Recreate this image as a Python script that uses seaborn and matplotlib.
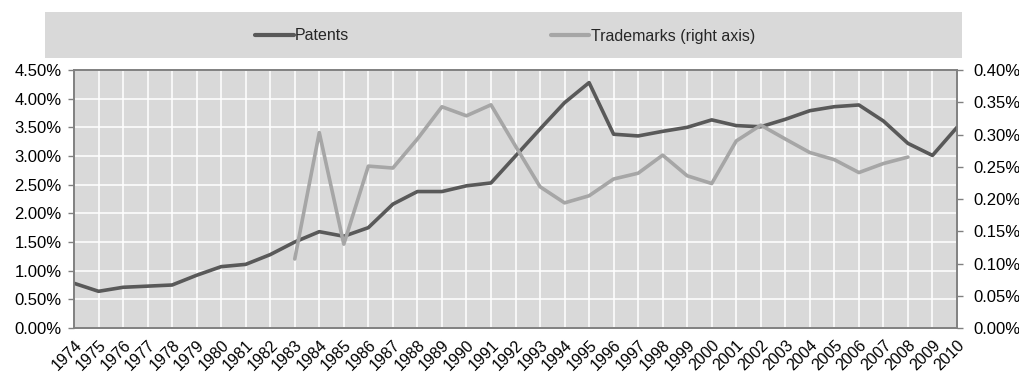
import numpy as np
import pandas as pd
import matplotlib
matplotlib.use("Agg")
import matplotlib.pyplot as plt
from matplotlib.patches import Rectangle
from matplotlib.ticker import PercentFormatter, MultipleLocator
import seaborn as sns

years = list(range(1974, 2011))

patents = [0.78, 0.64, 0.71, 0.73, 0.75, 0.92, 1.07, 1.11, 1.28, 1.50,
           1.68, 1.60, 1.75, 2.16, 2.38, 2.38, 2.48, 2.53, 3.00, 3.47,
           3.93, 4.28, 3.38, 3.35, 3.43, 3.50, 3.63, 3.53, 3.51, 3.64,
           3.79, 3.86, 3.89, 3.61, 3.22, 3.01, 3.50]

trademark_years = list(range(1983, 2009))
trademarks = [0.107, 0.303, 0.130, 0.251, 0.248, 0.293, 0.343, 0.329, 0.346, 0.282,
              0.219, 0.194, 0.205, 0.231, 0.240, 0.268, 0.236, 0.224, 0.290, 0.3145,
              0.293, 0.272, 0.261, 0.241, 0.255, 0.265]

pat_df = pd.DataFrame({"year": years, "value": patents})
tm_df = pd.DataFrame({"year": trademark_years, "value": trademarks})

sns.set_style("white")
plt.rcParams["font.family"] = ["Liberation Sans", "DejaVu Sans"]

DARK = "#595959"
LIGHT = "#a6a6a6"
BG = "#d9d9d9"
SPINE = "#808080"

fig = plt.figure(figsize=(10.2, 3.74), dpi=100)
ax = fig.add_axes([74 / 1020, 46 / 374, (957 - 74) / 1020, (328 - 70) / 374])
ax.set_facecolor(BG)

sns.lineplot(data=pat_df, x="year", y="value", ax=ax, color=DARK, linewidth=2.6,
             legend=False, zorder=3)

ax2 = ax.twinx()
sns.lineplot(data=tm_df, x="year", y="value", ax=ax2, color=LIGHT, linewidth=2.6,
             legend=False, zorder=3)

ax.set_xlim(1974, 2010)
ax.set_ylim(0, 4.5)
ax2.set_ylim(0, 0.4)

ax.yaxis.set_major_locator(MultipleLocator(0.5))
ax.yaxis.set_major_formatter(PercentFormatter(decimals=2))
ax2.yaxis.set_major_locator(MultipleLocator(0.05))
ax2.yaxis.set_major_formatter(PercentFormatter(decimals=2))

ax.set_xticks(years)
ax.set_xticklabels([str(y) for y in years], rotation=45, ha="right",
                   rotation_mode="anchor")
ax.grid(True, color="white", linewidth=1.1, zorder=0)
ax.set_axisbelow(True)

for a in (ax, ax2):
    a.set_xlabel("")
    a.set_ylabel("")
    for s in a.spines.values():
        s.set_color(SPINE)
        s.set_linewidth(1.2)
    a.tick_params(axis="both", colors=SPINE, length=4, width=1, labelsize=12,
                  labelcolor="black", direction="out")
ax.tick_params(axis="x", labelsize=11.5, pad=3)
ax.tick_params(axis="y", pad=5)
ax2.tick_params(axis="y", pad=8)

# legend band above the chart
fig.patches.append(Rectangle((45 / 1020, 1 - 58 / 374), (962 - 45) / 1020, 46 / 374,
                             transform=fig.transFigure, facecolor=BG,
                             edgecolor="none", zorder=0))
handles = [plt.Line2D([], [], color=DARK, linewidth=3),
           plt.Line2D([], [], color=LIGHT, linewidth=3)]
fig.legend(handles, ["Patents", "Trademarks (right axis)"], loc="center",
           bbox_to_anchor=(505 / 1020, 1 - 36 / 374), ncol=2, frameon=False,
           handlelength=2.4, handletextpad=0.1, columnspacing=12.6, fontsize=11.5)

fig.savefig("out.png", dpi=100)
